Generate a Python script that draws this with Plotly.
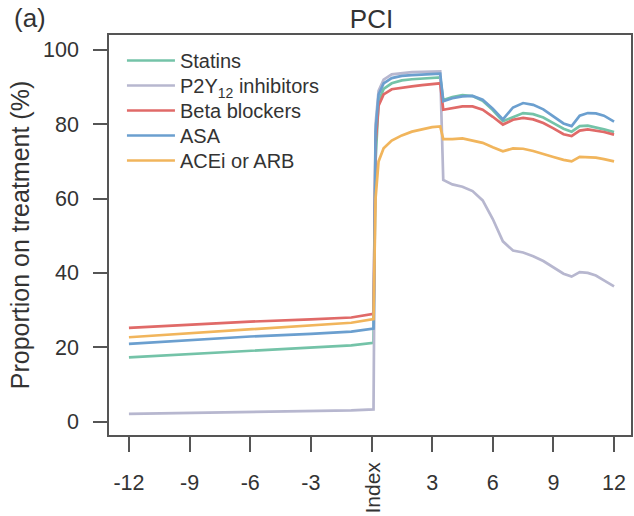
import plotly.graph_objects as go

# months relative to index PCI
months = [-12, -9, -6, -3, -1, 0.1, 0.2, 0.35, 0.6, 1.0, 1.5, 2.0, 2.5, 3.0, 3.4, 3.55,
          4.0, 4.5, 5.0, 5.5, 6.0, 6.5, 7.0, 7.5, 8.0, 8.5, 9.0, 9.5, 9.9, 10.3, 10.7,
          11.1, 11.5, 12.0]

statins = [17.3, 18.2, 19.0, 19.8, 20.5, 21.2, 70, 86, 89.5, 91, 91.8, 92.1, 92.3, 92.5,
           92.6, 86.5, 87.3, 87.8, 87.6, 86.3, 83.8, 80.8, 82.0, 83.0, 82.7, 81.8, 80.3,
           78.8, 78.0, 79.5, 79.6, 79.2, 78.6, 77.9]
p2y12 = [2.1, 2.3, 2.5, 2.8, 3.0, 3.3, 80, 89, 92, 93.4, 93.8, 94.0, 94.1, 94.2, 94.2,
         65, 63.8, 63.2, 62.0, 59.5, 54.5, 48.5, 46.0, 45.5, 44.5, 43.2, 41.5, 39.8, 39.0,
         40.2, 40.0, 39.3, 38.0, 36.4]
beta = [25.2, 26.1, 26.9, 27.5, 28.0, 29.0, 75, 85, 88, 89.4, 89.9, 90.2, 90.5, 90.8,
        91.0, 83.9, 84.3, 84.8, 84.8, 83.9, 82.0, 79.9, 81.2, 81.7, 81.3, 80.3, 78.9,
        77.3, 76.8, 78.3, 78.6, 78.3, 77.9, 77.2]
asa = [20.9, 21.9, 22.9, 23.6, 24.2, 25.0, 78, 88, 91, 92.4, 93.0, 93.2, 93.4, 93.5,
       93.6, 86.2, 87.0, 87.5, 87.6, 86.6, 84.2, 81.3, 84.5, 85.7, 85.2, 84.0, 82.2,
       80.2, 79.5, 82.3, 83.0, 82.9, 82.3, 80.7]
acei = [22.7, 23.8, 24.9, 25.9, 26.6, 27.6, 60, 70, 73.5, 75.6, 77.0, 78.0, 78.7, 79.2,
        79.4, 76.0, 76.0, 76.2, 75.6, 75.0, 73.8, 72.7, 73.5, 73.4, 72.8, 72.1, 71.2,
        70.4, 70.0, 71.2, 71.1, 71.0, 70.6, 70.0]

series_names = ["Statins", "P2Y<sub>12</sub> inhibitors", "Beta blockers", "ASA", "ACEi or ARB"]
series_values = [statins, p2y12, beta, asa, acei]
series_colors = ["#74c3a8", "#b7b7cf", "#e06a68", "#6b9fcf", "#f1b55c"]

x_tick_vals = [-12, -9, -6, -3, 0, 3, 6, 9, 12]
x_tick_text = ["-12", "-9", "-6", "-3", " ", "3", "6", "9", "12"]
index_label = "Index"
y_tick_vals = [0, 20, 40, 60, 80, 100]

FONT = "Liberation Sans, Arial, sans-serif"
TXT = "#333333"
AX = "#555555"

W, H = 634, 516
ML, MR, MT, MB = 109, 1, 35, 81
plot_h = H - MT - MB
plot_w = W - ML - MR

fig = go.Figure()
legend_names = ["legend", "legend2", "legend3", "legend4", "legend5"]
for name, vals, col, lg in zip(series_names, series_values, series_colors, legend_names):
    fig.add_trace(go.Scatter(x=months, y=vals, mode="lines", name=name,
                             line=dict(color=col, width=2.7), legend=lg))

row_px = [60.5, 85.5, 110.5, 135.5, 160.5]
legend_x = (122 - ML) / plot_w
layout_legends = {}
for lg, py in zip(legend_names, row_px):
    layout_legends[lg] = dict(x=legend_x, y=(H - MB - py) / plot_h, xanchor="left",
                              yanchor="middle", bgcolor="rgba(0,0,0,0)", borderwidth=0,
                              font=dict(family=FONT, size=20, color=TXT), itemwidth=48)

fig.update_layout(
    width=W, height=H,
    margin=dict(l=ML, r=MR, t=MT, b=MB),
    paper_bgcolor="white", plot_bgcolor="white",
    font=dict(family=FONT, color=TXT),
    showlegend=True,
    title=dict(text="PCI", x=371.5 / W, xanchor="center", y=1 - 19 / H, yanchor="middle",
               font=dict(family=FONT, size=26, color=TXT)),
    **layout_legends,
)

fig.update_xaxes(range=[-12.986, 12.838], showline=True, linecolor=AX, linewidth=1.6,
                 mirror=True, ticks="outside", ticklen=15, tickwidth=1.6, tickcolor=AX,
                 tickvals=x_tick_vals, ticktext=x_tick_text, showgrid=False, zeroline=False,
                 tickfont=dict(family=FONT, size=21.5, color=TXT), ticklabelstandoff=12)
fig.update_yaxes(range=[-3.6, 104], showline=True, linecolor=AX, linewidth=1.6,
                 mirror=True, ticks="outside", ticklen=14, tickwidth=1.6, tickcolor=AX,
                 tickvals=y_tick_vals, showgrid=False, zeroline=False,
                 tickfont=dict(family=FONT, size=21.5, color=TXT), ticklabelstandoff=10,
                 title=dict(text="Proportion on treatment (%)", standoff=6,
                            font=dict(family=FONT, size=25, color=TXT)))

fig.add_annotation(text=index_label, x=0, xref="x", y=(H - MB - 488) / plot_h, yref="paper",
                   textangle=-90, showarrow=False, xanchor="center", yanchor="middle",
                   font=dict(family=FONT, size=21, color=TXT))
fig.add_annotation(text="(a)", x=(30 - ML) / plot_w, xref="paper",
                   y=(H - MB - 18) / plot_h, yref="paper", showarrow=False,
                   xanchor="center", yanchor="middle",
                   font=dict(family=FONT, size=26, color=TXT))

fig.write_html("out.html")
